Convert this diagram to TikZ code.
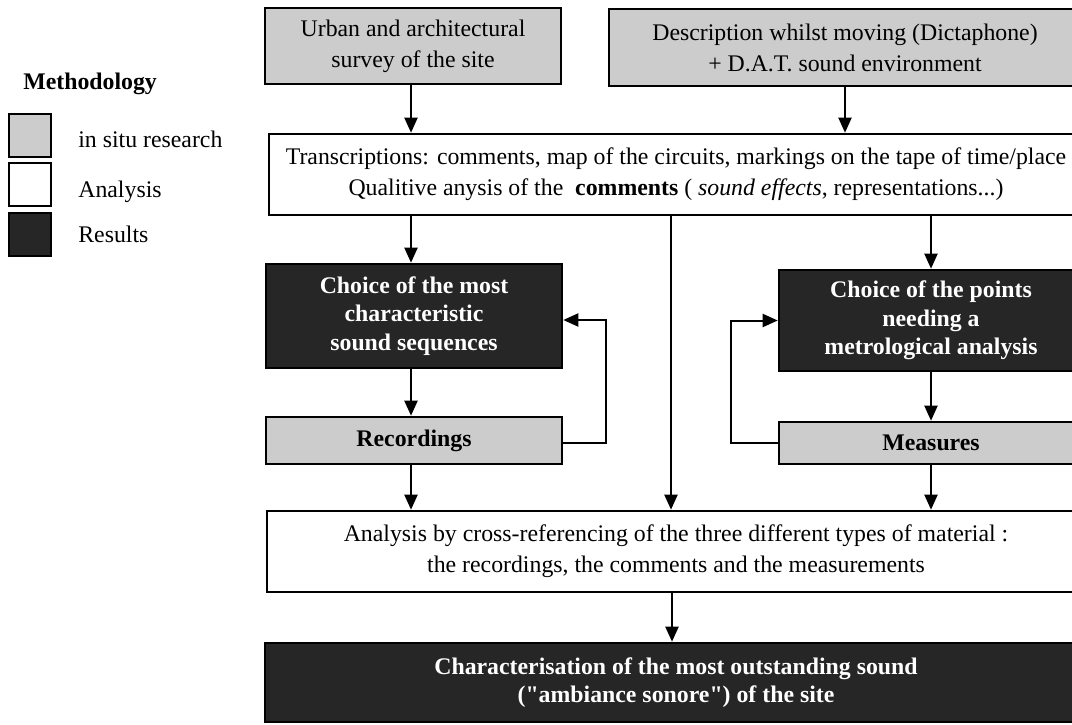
\documentclass[tikz,border=0pt]{standalone}
\usepackage{fontspec}
\setmainfont{Liberation Serif}[Ligatures=TeXOff]
\usetikzlibrary{arrows.meta,positioning}

\newcommand{\plainsize}{\fontsize{23.8pt}{31pt}\selectfont}
\newcommand{\boldsize}{\fontsize{23.8pt}{28.5pt}\selectfont\bfseries}

\tikzset{
  box/.style={draw, line width=2.6pt, align=center, inner sep=2pt},
  insitu/.style={box, fill=black!20, font=\plainsize},
  analysis/.style={box, fill=white, font=\plainsize},
  result/.style={box, fill=black!85, text=white, font=\boldsize},
  key/.style={draw, line width=2.6pt, minimum width=42pt, minimum height=43pt, inner sep=0pt},
}

\begin{document}
\begin{tikzpicture}[x=1pt,y=-1pt,->,>={Triangle[length=15pt,width=13pt]},line width=2pt,font=\plainsize]
  \useasboundingbox (0,0) rectangle (1072,725);
  \clip (0,0) rectangle (1072,725);
  % Legend
  \node[anchor=base west, font=\plainsize\bfseries] (key title) at (19,90) {Methodology};
  \node[key, fill=black!20] (key situ)     at (30,135.5) {};
  \node[key, fill=white]    (key analysis) at (30,184.5) {};
  \node[key, fill=black!85] (key results)  at (30,234.5) {};
  \node[anchor=base west] (key situ text)     at (74,147) {in situ research};
  \node[anchor=base west] (key analysis text) at (74,197) {Analysis};
  \node[anchor=base west] (key results text)  at (74,242) {Results};

  % In situ research
  \node[insitu, minimum width=296pt, minimum height=76pt] (survey box) at (413,46)
    {Urban and architectural\\survey of the site};
  \node[insitu, minimum width=472pt, minimum height=77pt] (moving box) at (845,47.5)
    {Description whilst moving (Dictaphone)\\+ D.A.T. sound environment};
  \node[analysis, minimum width=814pt, minimum height=81pt] (transcription box) at (676,174.5)
    {Transcriptions: comments, map of the circuits, markings on the tape of time/place\\
     Qualitive anysis of the\ \ \textbf{comments} (\ \textit{sound effects}, representations...)};

  % Left and right branches
  \node[result, minimum width=296pt, minimum height=104pt] (choice left) at (414,316)
    {Choice of the most\\characteristic\\sound sequences};
  \node[insitu, font=\boldsize, minimum width=296pt, minimum height=47pt] (recordings) at (414,440.5)
    {Recordings};
  \node[result, minimum width=304pt, minimum height=101pt] (choice right) at (931,320.5)
    {Choice of the points\\needing a\\metrological analysis};
  \node[insitu, font=\boldsize, minimum width=304pt, minimum height=42pt] (measures) at (931,443)
    {Measures};

  % Cross analysis and result
  \node[analysis, minimum width=818pt, minimum height=81pt] (cross analysis) at (676,551.5)
    {Analysis by cross-referencing of the three different types of material :\\
     the recordings, the comments and the measurements};
  \node[result, minimum width=822pt, minimum height=79pt] (result box) at (676,682.5)
    {Characterisation of the most outstanding sound\\("ambiance sonore") of the site};

  % Connecting edges
  \path
  ([xshift=-2pt]survey box.south) edge ([xshift=-2pt]survey box.south |- transcription box.north)
  (moving box) edge (moving box |- transcription box.north)
  ([xshift=-3pt]transcription box.south -| choice left.north) edge ([xshift=-3pt]choice left.north)
  ([xshift=-5pt]transcription box.south) edge ([xshift=-5pt]cross analysis.north)
  (transcription box.south -| choice right.north) edge (choice right)
  ([xshift=-3pt]choice left.south) edge ([xshift=-3pt]recordings.north)
  (choice right) edge (measures)
  ([xshift=-3pt]recordings.south) edge ([xshift=-3pt]recordings.south |- cross analysis.north)
  (measures) edge (measures |- cross analysis.north)
  ([xshift=-4pt]cross analysis.south) edge ([xshift=-4pt]result box.north);

  % Feedback loops
  \draw ([yshift=-2.5pt]recordings.east) -- ++(43,0) |- ([yshift=-4pt]choice left.east);
  \draw (measures.west) -- ++(-47,0) |- (choice right.west);
\end{tikzpicture}
\end{document}
